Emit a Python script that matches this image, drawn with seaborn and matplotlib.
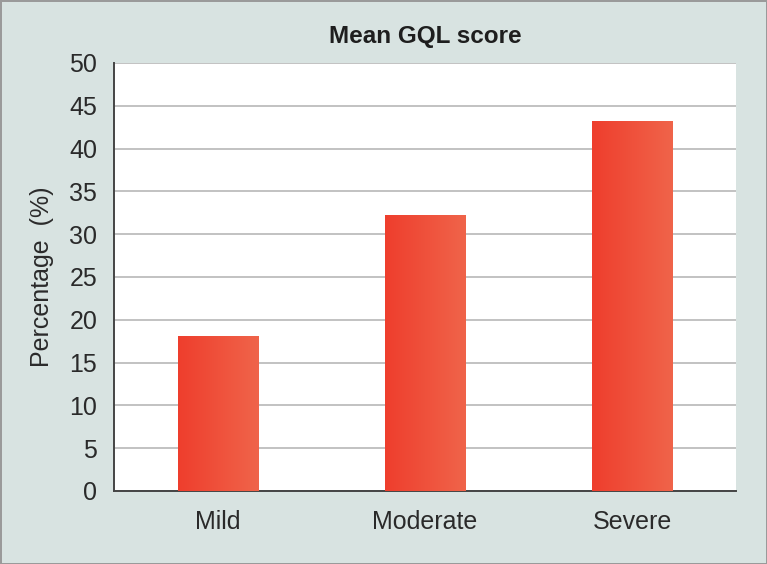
"""Mean GQL score by severity, bar chart with gradient fills."""

import matplotlib

matplotlib.use("Agg")

import matplotlib.pyplot as plt
import numpy as np
import pandas as pd
import seaborn as sns
from matplotlib.colors import LinearSegmentedColormap

categories = ["Mild", "Moderate", "Severe"]
scores = [18.1, 32.2, 43.2]
y_ticks = [0, 5, 10, 15, 20, 25, 30, 35, 40, 45, 50]

BG = "#d8e3e1"
BAR_CMAP = LinearSegmentedColormap.from_list("bar", ["#ee3e2d", "#f0644a"])


def main() -> None:
    sns.set_theme(style="white")
    plt.rcParams["font.family"] = ["Liberation Sans", "DejaVu Sans"]

    df = pd.DataFrame({"severity": categories, "score": scores})

    fig = plt.figure(figsize=(7.67, 5.64), dpi=100, facecolor=BG)
    fig.patch.set_edgecolor("#9a9a9a")
    fig.patch.set_linewidth(2)
    ax = fig.add_axes([114 / 767, 1 - 491 / 564, 622 / 767, 428 / 564])
    ax.set_facecolor("white")

    sns.barplot(data=df, x="severity", y="score", color="#ee4a36",
                width=0.386, ax=ax, zorder=3)

    # gradient fill, clipped to each bar
    grad = np.linspace(0, 1, 256).reshape(1, -1)
    for patch in ax.patches:
        x0, y0 = patch.get_x(), patch.get_y()
        w, h = patch.get_width(), patch.get_height()
        im = ax.imshow(grad, cmap=BAR_CMAP, aspect="auto",
                       extent=[x0, x0 + w, y0, y0 + h], zorder=4)
        im.set_clip_path(patch)
        patch.set_edgecolor("none")

    ax.set_xlim(-0.5, 2.5)
    ax.set_ylim(0, 50)
    ax.set_yticks(y_ticks)
    ax.yaxis.grid(True, color="#b8b8b8", linewidth=1.2, zorder=0)
    ax.set_axisbelow(True)

    ax.set_xticks([0, 1, 2])
    ax.set_xticklabels(categories, fontsize=18, color="#2a2a2a")
    ax.set_xticks([0.5, 1.5, 2.5], minor=True)
    ax.tick_params(axis="x", which="major", length=0, pad=14)
    ax.tick_params(axis="x", which="minor", length=9, width=1.2,
                   color="#444444", direction="out")
    ax.tick_params(axis="y", length=6, width=1.2, color="#444444",
                   direction="out", labelsize=18, labelcolor="#2a2a2a", pad=6)

    for side in ["top", "right"]:
        ax.spines[side].set_visible(False)
    for side in ["left", "bottom"]:
        ax.spines[side].set_color("#444444")
        ax.spines[side].set_linewidth(1.4)

    ax.set_xlabel("")
    ax.set_ylabel("Percentage  (%)", fontsize=18, color="#2a2a2a", labelpad=11)
    fig.text(425 / 767, 1 - 37 / 564, "Mean GQL score", ha="center",
             va="center", fontsize=17.5, fontweight="bold", color="#1e1e1e")

    fig.savefig("out.png", dpi=100, facecolor=BG, edgecolor=fig.patch.get_edgecolor())
    plt.close(fig)


if __name__ == "__main__":
    main()
